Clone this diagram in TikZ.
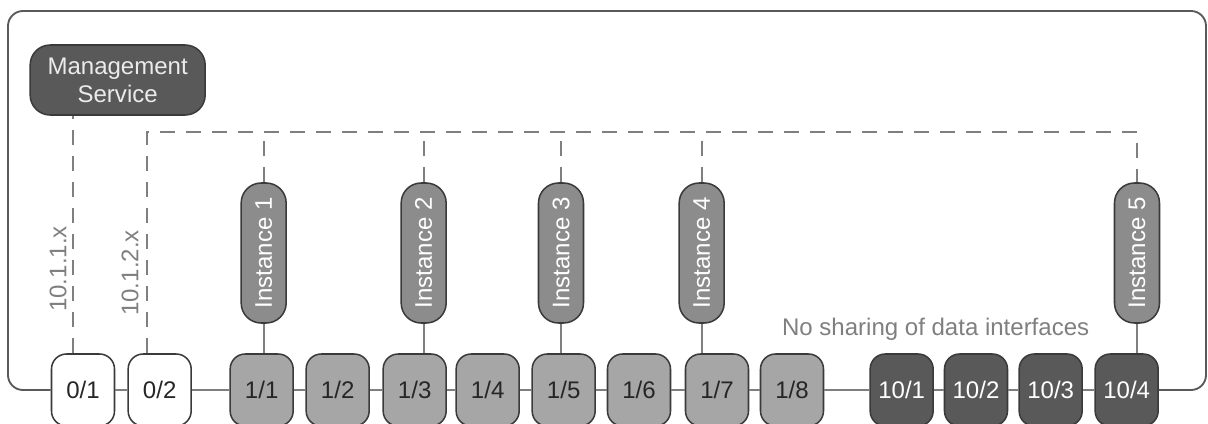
\documentclass[tikz,border=0pt]{standalone}
\usepackage{fontspec}
\setmainfont{Liberation Sans}
\definecolor{linegray}{HTML}{7F7F7F}
\definecolor{framegray}{HTML}{5A5A5A}
\definecolor{edgegray}{HTML}{3A3A3A}
\definecolor{portgray}{HTML}{A6A6A6}
\definecolor{instgray}{HTML}{8C8C8C}
\definecolor{darkgray}{HTML}{595959}
\tikzset{
    port/.style={draw=edgegray, line width=1.3pt, rounded corners=0.45cm, minimum width=1.89cm, minimum height=2.16cm, inner sep=0pt, font=\fontsize{20.5}{24}\selectfont},
    mgmtport/.style={port, fill=white, text=black!85},
    dataport/.style={port, fill=portgray, text=black!85},
    freeport/.style={port, fill=darkgray, text=white},
    instance/.style={draw=edgegray, line width=1.3pt, fill=instgray, text=white, rotate=90, rounded corners=0.6cm, minimum width=4.2cm, minimum height=1.35cm, inner sep=0pt, font=\fontsize{20.5}{24}\selectfont},
    link/.style={draw=linegray, line width=1.6pt},
    mgmtlink/.style={draw=linegray, line width=1.6pt, dash pattern=on 0.45cm off 0.33cm},
    iplabel/.style={text=linegray, rotate=90, font=\fontsize{20.5}{24}\selectfont}
}
\begin{document}
\begin{tikzpicture}
        \useasboundingbox (0, 0) rectangle (36.24, -12.69);

        % Nodes
        \node[draw=edgegray, line width=1.3pt, fill=darkgray, text=black!8, rounded corners=0.6cm, minimum width=5.25cm, minimum height=2.1cm, align=center, font=\fontsize{20.5}{24}\selectfont] at (3.53, -2.40)  (mgmt)    {Management\\Service};

        \node[mgmtport] at (2.49, -11.70)  (p01)    {0/1};
        \node[mgmtport] at (4.79, -11.70)  (p02)    {0/2};
        \node[dataport] at (7.85, -11.70)  (p11)    {1/1};
        \node[dataport] at (10.13, -11.70)  (p12)    {1/2};
        \node[dataport] at (12.44, -11.70)  (p13)    {1/3};
        \node[dataport] at (14.63, -11.70)  (p14)    {1/4};
        \node[dataport] at (16.91, -11.70)  (p15)    {1/5};
        \node[dataport] at (19.17, -11.70)  (p16)    {1/6};
        \node[dataport] at (21.51, -11.70)  (p17)    {1/7};
        \node[dataport] at (23.76, -11.70)  (p18)    {1/8};
        \node[freeport] at (27.05, -11.70)  (p101)    {10/1};
        \node[freeport] at (29.28, -11.70)  (p102)    {10/2};
        \node[freeport] at (31.52, -11.70)  (p103)    {10/3};
        \node[freeport] at (33.80, -11.70)  (p104)    {10/4};

        \node[instance] at (7.91, -7.59)  (i1)    {Instance 1};
        \node[instance] at (12.71, -7.59)  (i2)    {Instance 2};
        \node[instance] at (16.83, -7.59)  (i3)    {Instance 3};
        \node[instance] at (21.05, -7.59)  (i4)    {Instance 4};
        \node[instance] at (34.11, -7.59)  (i5)    {Instance 5};

        \node[iplabel] at (1.74, -8.07)  (ip1)    {10.1.1.x};
        \node[iplabel] at (3.90, -8.19)  (ip2)    {10.1.2.x};
        \node[text=linegray, font=\fontsize{20.5}{24}\selectfont] at (28.07, -9.87)  (note)    {No sharing of data interfaces};

        \coordinate (bus) at (4.41, -3.96);

        % Links
        \draw[link, draw=framegray, rounded corners=0.45cm] (p01.west) -| (0.24, -0.33) -| (36.18, -11.70) -- (p104.east);
        \draw[link]  (p01) -- (p02);
        \draw[link]  (p02) -- (p11);
        \draw[link]  (p11) -- (p12);
        \draw[link]  (p12) -- (p13);
        \draw[link]  (p13) -- (p14);
        \draw[link]  (p14) -- (p15);
        \draw[link]  (p15) -- (p16);
        \draw[link]  (p16) -- (p17);
        \draw[link]  (p17) -- (p18);
        \draw[link]  (p18) -- (p101);
        \draw[link]  (p101) -- (p102);
        \draw[link]  (p102) -- (p103);
        \draw[link]  (p103) -- (p104);

        \draw[link]  (i1.west) -- (i1.west |- p11.north);
        \draw[link]  (i2.west) -- (i2.west |- p13.north);
        \draw[link]  (i3.west) -- (i3.west |- p15.north);
        \draw[link]  (i4.west) -- (i4.west |- p17.north);
        \draw[link]  (i5.west) -- (i5.west |- p104.north);

        \draw[mgmtlink]  ([xshift=-0.30cm]p01.north) -- ([xshift=-0.30cm]p01.north |- mgmt.south);
        \draw[mgmtlink]  (bus |- p02.north) -- (bus) -- (bus -| i5.east) -- (i5.east);
        \draw[mgmtlink]  (i1.east) -- (i1.east |- bus);
        \draw[mgmtlink]  (i2.east) -- (i2.east |- bus);
        \draw[mgmtlink]  (i3.east) -- (i3.east |- bus);
        \draw[mgmtlink]  (i4.east) -- (i4.east |- bus);
    \end{tikzpicture}
\end{document}
